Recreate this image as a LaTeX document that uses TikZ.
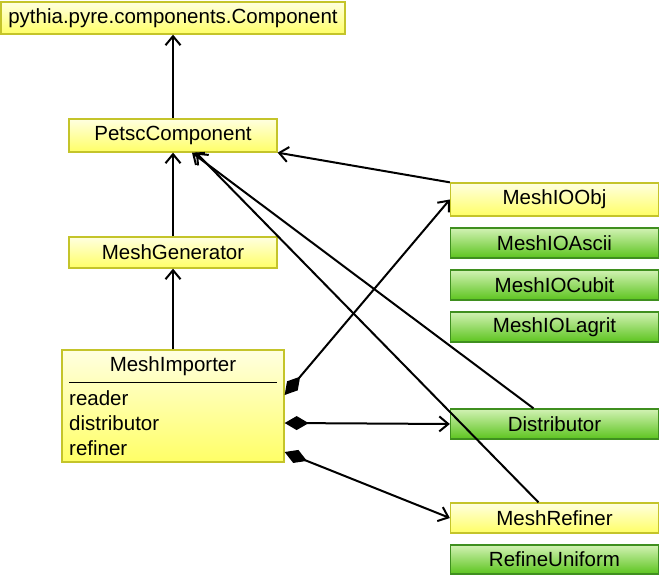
\documentclass[tikz,border=0pt]{standalone}
\usepackage{fontspec}
\setmainfont{Liberation Sans}
\usetikzlibrary{arrows.meta,calc}
\definecolor{ytop}{HTML}{FFFFE0}
\definecolor{ybot}{HTML}{FFFF66}
\definecolor{yline}{HTML}{C4C42A}
\definecolor{gtop}{HTML}{D2F2B4}
\definecolor{gbot}{HTML}{5CC41E}
\definecolor{gline}{HTML}{3F8F1F}
\tikzset{
  cls/.style={rectangle,inner sep=0pt,line width=1.3pt,font=\fontsize{20.5}{24}\selectfont,
    minimum width=208pt},
  ycls/.style={cls,draw=yline,top color=ytop,bottom color=ybot},
  gcls/.style={cls,draw=gline,top color=gtop,bottom color=gbot},
  txt/.style={inner sep=0pt,font=\fontsize{20.5}{24}\selectfont},
  inh/.style={line width=2pt,-{Straight Barb[length=9pt,width=15pt]}},
  comp/.style={line width=2pt,{Diamond[length=24pt,width=14pt]}-{Straight Barb[length=9pt,width=15pt]}}
}
\begin{document}
\begin{tikzpicture}[x=1pt,y=-1pt]
\useasboundingbox (0,0) rectangle (659,575);
\node[ycls,minimum width=344pt,minimum height=32pt] (pyre) at (173,18) {pythia.pyre.components.Component};
\node[ycls,minimum height=33pt] (petsc) at (173,135.5) {PetscComponent};
\node[ycls,minimum height=31pt] (gen) at (173,252.5) {MeshGenerator};
\node[ycls,minimum width=222pt,minimum height=112pt] (imp) at (173,406) {};
\node[txt] (imptitle) at (173,366) {MeshImporter};
\draw[line width=1pt] (69,382) -- (277,382);
\node[txt,anchor=west] (reader) at (69,398) {reader};
\node[txt,anchor=west] (distr) at (69,423) {distributor};
\node[txt,anchor=west] (refin) at (69,448) {refiner};

\node[ycls,minimum height=33pt] (obj) at (554.5,199.5) {MeshIOObj};
\node[gcls,minimum height=30pt] (ascii) at (554.5,243) {MeshIOAscii};
\node[gcls,minimum height=30pt] (cubit) at (554.5,285) {MeshIOCubit};
\node[gcls,minimum height=30pt] (lagrit) at (554.5,327) {MeshIOLagrit};
\node[gcls,minimum height=30pt] (dist) at (554.5,424) {Distributor};
\node[ycls,minimum height=30pt] (ref) at (554.5,518) {MeshRefiner};
\node[gcls,minimum height=29pt] (unif) at (554.5,559.5) {RefineUniform};

\draw[inh] (petsc.north) -- (pyre.south);
\draw[inh] (gen.north) -- (petsc.south);
\draw[inh] (imp.north) -- (gen.south);
\draw[inh] (obj.north west) -- (petsc.south east);
\draw[inh] ([xshift=-21pt]dist.north) -- ([xshift=19pt]petsc.south);
\draw[inh] ([xshift=-16pt]ref.north) -- ([xshift=23pt]petsc.south);

\draw[comp] ([yshift=11pt]imp.east) -- (obj.west);
\draw[comp] ([yshift=-17pt]imp.east) -- (dist.west);
\draw[comp] ([yshift=-46pt]imp.east) -- (ref.west);
\end{tikzpicture}
\end{document}
